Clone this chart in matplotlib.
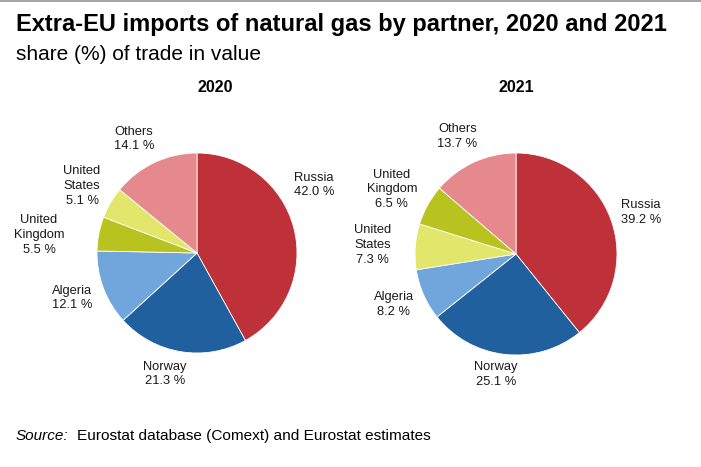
import matplotlib.pyplot as plt
from matplotlib.lines import Line2D

# Datos
partners_2020 = ["Russia", "Norway", "Algeria", "United\nKingdom", "United\nStates", "Others"]
shares_2020 = [42.0, 21.3, 12.1, 5.5, 5.1, 14.1]
partners_2021 = ["Russia", "Norway", "Algeria", "United\nStates", "United\nKingdom", "Others"]
shares_2021 = [39.2, 25.1, 8.2, 7.3, 6.5, 13.7]

colores = {
    "Russia": "#bf3139",
    "Norway": "#21609e",
    "Algeria": "#70a6dc",
    "United\nKingdom": "#b9c31f",
    "United\nStates": "#e2e66b",
    "Others": "#e6898c",
}

# posiciones de las etiquetas (unidades del radio, relativas al centro)
pos_2020 = [(1.17, 0.68), (-0.32, -1.21), (-1.25, -0.45), (-1.58, 0.18), (-1.15, 0.67), (-0.63, 1.14)]
pos_2021 = [(1.24, 0.41), (-0.20, -1.19), (-1.21, -0.50), (-1.42, 0.09), (-1.23, 0.64), (-0.58, 1.16)]

plt.rcParams['font.family'] = ['Liberation Sans', 'DejaVu Sans']

W, H = 701, 467
fig = plt.figure(figsize=(W / 100, H / 100), dpi=100)


def pastel(cx, cy, r, nombres, valores, posiciones):
    # cx, cy en pixeles desde arriba a la izquierda
    half = 1.7 * r
    ax = fig.add_axes([(cx - half) / W, (H - cy - half) / H, 2 * half / W, 2 * half / H])
    ax.pie(valores, colors=[colores[n] for n in nombres], startangle=90, counterclock=False,
           radius=1, wedgeprops={'edgecolor': 'white', 'linewidth': 0.6})
    ax.set_xlim(-1.7, 1.7)
    ax.set_ylim(-1.7, 1.7)
    ax.set_aspect('equal')
    ax.axis('off')
    ax.patch.set_alpha(0)
    for nombre, valor, (x, y) in zip(nombres, valores, posiciones):
        ax.text(x, y, f"{nombre}\n{valor:.1f} %", ha='center', va='center', fontsize=9.3,
                color='#1a1a1a', linespacing=1.3)
    return ax


pastel(197, 253, 100, partners_2020, shares_2020, pos_2020)
pastel(516, 254, 101, partners_2021, shares_2021, pos_2021)

fig.text(215 / W, 1 - 88 / H, "2020", ha='center', va='center', fontsize=11.5, fontweight='bold')
fig.text(516 / W, 1 - 87 / H, "2021", ha='center', va='center', fontsize=11.5, fontweight='bold')

fig.text(16 / W, 1 - 25 / H, "Extra-EU imports of natural gas by partner, 2020 and 2021",
         ha='left', va='center', fontsize=17, fontweight='bold')
fig.text(16 / W, 1 - 54 / H, "share (%) of trade in value", ha='left', va='center', fontsize=15)

fig.text(16 / W, 1 - 436 / H, "Source:", ha='left', va='center', fontsize=11, style='italic')
fig.text(77 / W, 1 - 436 / H, "Eurostat database (Comext) and Eurostat estimates",
         ha='left', va='center', fontsize=11.1)

# borde gris superior
fig.add_artist(Line2D([0, 1], [1 - 1 / H, 1 - 1 / H], transform=fig.transFigure, color='#a3a7ab', linewidth=1.5))

fig.savefig("out.png", dpi=100)
